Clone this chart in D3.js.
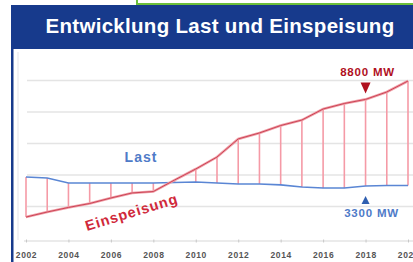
<!DOCTYPE html>
<html><head><meta charset="utf-8">
<script src="https://cdn.jsdelivr.net/npm/d3@7/dist/d3.min.js"></script>
<style>
html,body{margin:0;padding:0;background:#fff;}
svg{display:block;font-family:"Liberation Sans",Arial,sans-serif;}
</style></head>
<body><svg id="c" width="413" height="262"></svg>
<script>
const title = "Entwicklung Last und Einspeisung";
const years = [2002,2003,2004,2005,2006,2007,2008,2009,2010,2011,2012,2013,2014,2015,2016,2017,2018,2019,2020];
const last = [3870,3810,3490,3490,3490,3490,3490,3520,3560,3490,3430,3430,3370,3240,3170,3170,3300,3330,3330];
const einspeisung = [1330,1650,1940,2190,2540,2860,2950,3680,4380,5140,6290,6670,7140,7490,8190,8540,8800,9270,9970];
const tickYears = [2002,2004,2006,2008,2010,2012,2014,2016,2018,2020];
const gridValues = [2000,4000,6000,8000,10000];
const labelLast = "Last", labelEin = "Einspeisung";
const annoEin = "8800 MW", annoLast = "3300 MW", annoYear = 2018;

const svg = d3.select("#c");
const x = d3.scaleLinear().domain([2002,2020]).range([26,408]);
const y = d3.scaleLinear().domain([0,10000]).range([238,80.5]);

// top green box
svg.append("rect").attr("x",137).attr("y",-4).attr("width",290).attr("height",8)
  .attr("fill","#fff").attr("stroke","#6cbf3a").attr("stroke-width",2);
// header bar
svg.append("rect").attr("x",11).attr("y",5).attr("width",402).attr("height",44).attr("fill","#173a8c");
svg.append("text").attr("x",220).attr("y",33).attr("text-anchor","middle")
  .attr("fill","#fff").attr("font-weight","bold").attr("font-size",20.5).attr("letter-spacing",0.3).text(title);
// left border
svg.append("rect").attr("x",11).attr("y",45).attr("width",2.5).attr("height",217).attr("fill","#173a8c");
// faint vertical
svg.append("line").attr("x1",18).attr("x2",18).attr("y1",52).attr("y2",240).attr("stroke","#f1f1f4").attr("stroke-width",2);

// grid
svg.append("g").selectAll("line").data(gridValues).join("line")
  .attr("x1",27).attr("x2",413).attr("y1",d=>y(d)).attr("y2",d=>y(d))
  .attr("stroke","#e4e4e4").attr("stroke-width",1.6);

// x axis
const ax = svg.append("g").attr("transform","translate(0,241)")
  .call(d3.axisBottom(x).tickValues(tickYears).tickFormat(d3.format("d")).tickSize(2).tickSizeOuter(0));
ax.select(".domain").attr("stroke","#d8d8d8").attr("stroke-width",1.2).attr("d","M24,0H413");
ax.selectAll(".tick line").attr("stroke","#c8c8c8").attr("y1",-1.5).attr("y2",1.5);
ax.selectAll(".tick text").attr("y",11).attr("fill","#555").attr("font-weight","bold")
  .attr("font-size",8.5).attr("letter-spacing",0.6).attr("font-family","'Liberation Sans',Arial,sans-serif");

// verticals
svg.append("g").selectAll("line").data(years).join("line")
  .attr("x1",(d)=>x(d)).attr("x2",(d)=>x(d))
  .attr("y1",(d,i)=>y(last[i])).attr("y2",(d,i)=>y(einspeisung[i]))
  .attr("stroke","#f59aa6").attr("stroke-width",1.6);

// lines
svg.append("path").datum(years).attr("fill","none").attr("stroke","#5a86d4").attr("stroke-width",1.6)
  .attr("d",d3.line().x(d=>x(d)).y((d,i)=>y(last[i])));
svg.append("path").datum(years).attr("fill","none").attr("stroke","#f0a0a8").attr("stroke-width",2.6)
  .attr("d",d3.line().x(d=>x(d)).y((d,i)=>y(einspeisung[i])));
svg.append("path").datum(years).attr("fill","none").attr("stroke","#cc4456").attr("stroke-width",1)
  .attr("d",d3.line().x(d=>x(d)).y((d,i)=>y(einspeisung[i])));

// labels
svg.append("text").attr("x",141).attr("y",162).attr("text-anchor","middle").attr("fill","#4f7bc8")
  .attr("font-weight","bold").attr("font-size",14).attr("letter-spacing",1).text(labelLast);
svg.append("text").attr("transform","translate(133,217) rotate(-17)").attr("text-anchor","middle")
  .attr("fill","#d0283a").attr("font-weight","bold").attr("font-size",14.5).attr("letter-spacing",0.9).text(labelEin);

// annotations
const ai = years.indexOf(annoYear);
const ax0 = x(annoYear);
const yE = y(einspeisung[ai]), yL = y(last[ai]);
svg.append("path").attr("d",`M${ax0-5},${yE-17}L${ax0+5},${yE-17}L${ax0},${yE-6}Z`).attr("fill","#b0101e");
svg.append("text").attr("x",ax0+2).attr("y",yE-23).attr("text-anchor","middle").attr("fill","#b0101e")
  .attr("font-weight","bold").attr("font-size",11.5).attr("letter-spacing",0.8).text(annoEin);
svg.append("path").attr("d",`M${ax0-4},${yL+18}L${ax0+4},${yL+18}L${ax0},${yL+10}Z`).attr("fill","#2f5fb0");
svg.append("text").attr("x",ax0+6).attr("y",yL+31).attr("text-anchor","middle").attr("fill","#4f7bc8")
  .attr("font-weight","bold").attr("font-size",11.5).attr("letter-spacing",0.8).text(annoLast);
</script></body></html>
